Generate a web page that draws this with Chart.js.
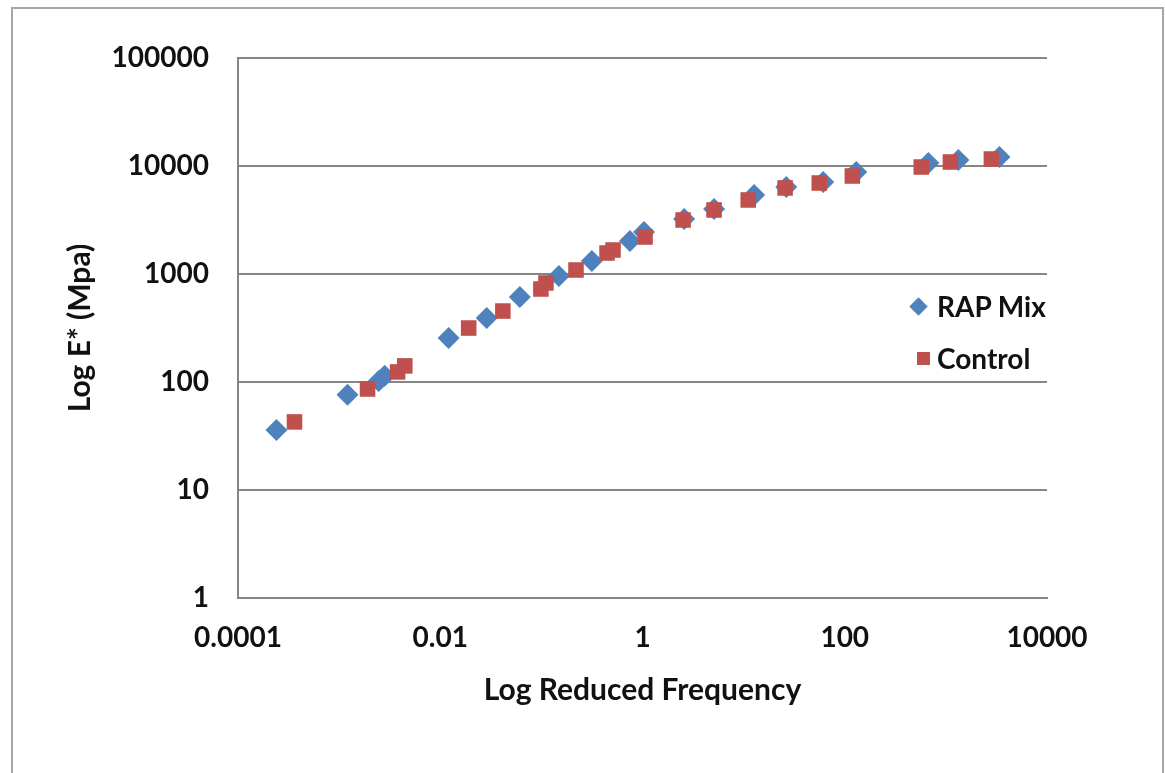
<!DOCTYPE html>
<html lang="en">
<head>
    <meta charset="UTF-8">
    <title>Log E* vs Log Reduced Frequency</title>
    <script src="https://cdn.jsdelivr.net/npm/chart.js"></script>
    <style>
        body {
            margin: 0;
            background: #ffffff;
            font-family: Lato, sans-serif;
        }
        #wrap {
            position: relative;
            width: 1165px;
            height: 773px;
            overflow: hidden;
        }
        #frame {
            position: absolute;
            left: 11px;
            top: 7px;
            width: 1149px;
            height: 800px;
            border: 2px solid #a6a6a6;
        }
        #chart {
            position: absolute;
            left: 0;
            top: 0;
        }
        .legend-item {
            position: absolute;
            left: 937px;
            font-size: 28px;
            font-weight: bold;
            color: #111;
            line-height: 34px;
        }
        .legend-item .mark {
            position: absolute;
        }
        #legRap { top: 289px; }
        #legCtl { top: 341px; }
        #legRap .mark {
            left: -25px;
            top: 11px;
            width: 13px;
            height: 13px;
            background: #4F81BD;
            transform: rotate(45deg);
        }
        #legCtl .mark {
            left: -20px;
            top: 11px;
            width: 13px;
            height: 13px;
            background: #C0504D;
        }
    </style>
</head>
<body>
    <div id="wrap">
        <div id="frame"></div>
        <canvas id="chart" width="1165" height="773"></canvas>
        <div class="legend-item" id="legRap"><span class="mark"></span>RAP Mix</div>
        <div class="legend-item" id="legCtl"><span class="mark"></span>Control</div>
    </div>

    <script>
        // values
        const rapFreq = [0.00024, 0.00121, 0.00246, 0.00282, 0.0121, 0.0288, 0.0612, 0.149, 0.316, 0.751,
                         1.035, 2.58, 5.10, 12.7, 26.4, 61.2, 130, 671, 1330, 3388];
        const rapModulus = [36, 76, 102, 114, 255, 391, 612, 958, 1319, 2021,
                            2447, 3230, 4000, 5390, 6390, 7110, 8800, 10660, 11370, 12120];

        const controlFreq = [0.000362, 0.00191, 0.00379, 0.00446, 0.0191, 0.0416, 0.0989, 0.111, 0.220, 0.446,
                             0.511, 1.06, 2.52, 5.10, 11.1, 25.7, 56.0, 119, 571, 1109, 2818];
        const controlModulus = [42.7, 86.1, 124, 141, 316, 454, 726, 826, 1089, 1565,
                                1668, 2200, 3162, 3914, 4846, 6260, 6960, 8080, 9790, 10890, 11610];

        const xTicks = [0.0001, 0.01, 1, 100, 10000];
        const xTickLabels = ['0.0001', '0.01', '1', '100', '10000'];
        const yTicks = [1, 10, 100, 1000, 10000, 100000];
        const yTickLabels = ['1', '10', '100', '1000', '10000', '100000'];

        function toPoints(xs, ys) {
            return xs.map((x, i) => ({ x: x, y: ys[i] }));
        }

        const gridColor = '#868686';
        const tickFont = { family: 'Lato', size: 28, weight: 'bold' };
        const titleFont = { family: 'Lato', size: 30, weight: 'bold' };

        const ctx = document.getElementById('chart').getContext('2d');
        new Chart(ctx, {
            type: 'scatter',
            data: {
                datasets: [
                    {
                        label: 'RAP Mix',
                        data: toPoints(rapFreq, rapModulus),
                        pointStyle: 'rectRot',
                        pointRadius: 11,
                        pointHoverRadius: 11,
                        backgroundColor: '#4F81BD',
                        borderColor: '#4F81BD',
                        borderWidth: 0,
                        order: 2
                    },
                    {
                        label: 'Control',
                        data: toPoints(controlFreq, controlModulus),
                        pointStyle: 'rect',
                        pointRadius: 11,
                        pointHoverRadius: 11,
                        backgroundColor: '#C0504D',
                        borderColor: '#C0504D',
                        borderWidth: 0,
                        order: 1
                    }
                ]
            },
            options: {
                responsive: false,
                animation: false,
                layout: { padding: { left: 0, top: 58, right: 118, bottom: 0 } },
                plugins: {
                    legend: { display: false },
                    tooltip: { enabled: false }
                },
                scales: {
                    x: {
                        type: 'logarithmic',
                        min: 0.0001,
                        max: 10000,
                        afterBuildTicks: s => { s.ticks = xTicks.map(v => ({ value: v })); },
                        afterFit: s => { s.height = 773 - 598; },
                        grid: { display: false, drawTicks: false },
                        border: { display: true, color: gridColor, width: 2 },
                        ticks: {
                            padding: 23,
                            color: '#111',
                            font: tickFont,
                            maxRotation: 0,
                            autoSkip: false,
                            callback: (v, i) => xTickLabels[i]
                        },
                        title: {
                            display: true,
                            text: 'Log Reduced Frequency',
                            color: '#111',
                            font: titleFont,
                            padding: { top: 0, bottom: 65 }
                        }
                    },
                    y: {
                        type: 'logarithmic',
                        min: 1,
                        max: 100000,
                        afterBuildTicks: s => { s.ticks = yTicks.map(v => ({ value: v })); },
                        afterFit: s => { s.width = 238; },
                        grid: { color: gridColor, lineWidth: 2, drawTicks: false },
                        border: { display: true, color: gridColor, width: 2 },
                        ticks: {
                            padding: 29,
                            color: '#111',
                            font: tickFont,
                            autoSkip: false,
                            callback: (v, i) => yTickLabels[i]
                        },
                        title: {
                            display: true,
                            text: 'Log E* (Mpa)',
                            color: '#111',
                            font: titleFont,
                            padding: { top: 62, bottom: 0 }
                        }
                    }
                }
            }
        });
    </script>
</body>
</html>
